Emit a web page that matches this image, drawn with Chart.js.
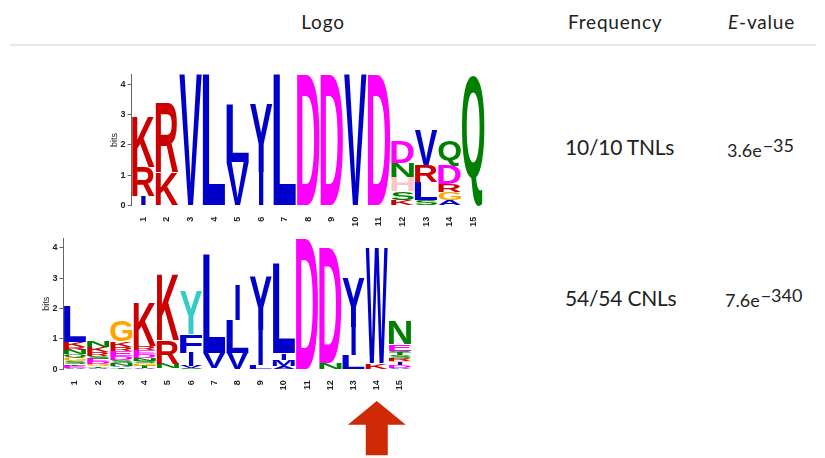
<!DOCTYPE html>
<html>
<head>
<meta charset="utf-8">
<script src="https://cdn.jsdelivr.net/npm/chart.js@4/dist/chart.umd.min.js"></script>
<style>
  html, body { margin: 0; padding: 0; background: #ffffff; }
  body { width: 825px; height: 458px; position: relative; overflow: hidden;
         font-family: Lato, "Open Sans", sans-serif; color: #222; }
  .txt { position: absolute; white-space: nowrap; line-height: 1; }
  .head { font-size: 19px; top: 11.5px; letter-spacing: 0.8px; }
  .row { font-size: 21px; letter-spacing: -0.2px; }
  .ev { font-size: 18px; }
  .ev span { font-size: 18px; position: relative; top: -5px; margin-left: 1px; }
  #rule { position: absolute; left: 10px; top: 44px; width: 806px; height: 2px; background: #e8e8e8; }
  canvas { position: absolute; }
  #tnlBox { left: 100px; top: 66px; width: 388px; height: 164px; }
  #cnlBox { left: 32px; top: 228px; width: 383px; height: 230px; }
</style>
</head>
<body>
<div class="txt head" style="left:323px; transform:translateX(-50%);">Logo</div>
<div class="txt head" style="left:568px;">Frequency</div>
<div class="txt head" style="left:728px;"><i>E</i>-value</div>
<div id="rule"></div>

<div class="txt row" style="left:565px; top:136.4px;">10/10 TNLs</div>
<div class="txt ev" style="left:727px; top:141.3px;">3.6e<span>&minus;35</span></div>
<div class="txt row" style="left:565px; top:287.4px;">54/54 CNLs</div>
<div class="txt ev" style="left:725px; top:290.7px;">7.6e<span>&minus;340</span></div>

<div id="tnlBox" style="position:absolute;"><canvas id="tnl"></canvas></div>
<div id="cnlBox" style="position:absolute;"><canvas id="cnl"></canvas></div>

<script>
// Motif positions and y-axis ticks shared by both logos
const positions = ['1','2','3','4','5','6','7','8','9','10','11','12','13','14','15'];
const bitTicks = [0, 1, 2, 3, 4];
const bitsMax = 4.32;

// TNL motif: residues per position, stacked bottom -> top, with their heights in bits
const tnlLetters = ['IRK','KR','V','L','VL','IY','L','D','D','V','D','KSHND','SLRV','AGRDQ','Q'];
const tnlBits = [
  [0.32, 0.96, 1.67],
  [1.09, 2.30],
  [4.32],
  [4.32],
  [1.45, 1.88],
  [1.12, 2.23],
  [4.32],
  [4.32],
  [4.32],
  [4.32],
  [4.32],
  [0.20, 0.27, 0.48, 0.45, 0.70],
  [0.20, 0.58, 0.55, 1.15],
  [0.20, 0.24, 0.27, 0.62, 0.82],
  [4.32]
];

// CNL motif
const cnlLetters = ['AETSGQNRKL','ATGDESRKN','TANSDERKG','ATGSNDERK','SNRK','SVIFY','IVL','VLI',
                    'LIY','AMIL','D','ND','LIY','KW','ADIGRSTQEN'];
const cnlBits = [
  [0.05, 0.06, 0.06, 0.09, 0.11, 0.12, 0.15, 0.09, 0.18, 1.16],
  [0.04, 0.06, 0.07, 0.07, 0.10, 0.10, 0.12, 0.16, 0.20],
  [0.06, 0.05, 0.10, 0.08, 0.14, 0.16, 0.14, 0.18, 0.70],
  [0.05, 0.07, 0.08, 0.08, 0.10, 0.12, 0.14, 0.12, 1.44],
  [0.03, 0.15, 0.77, 2.15],
  [0.04, 0.06, 0.45, 0.60, 1.42],
  [0.03, 0.50, 3.23],
  [0.55, 1.08, 1.13],
  [0.15, 1.15, 1.75],
  [0.10, 0.22, 0.20, 2.93],
  [4.32],
  [0.22, 3.78],
  [0.47, 0.93, 1.60],
  [0.20, 3.80],
  [0.05, 0.08, 0.10, 0.05, 0.10, 0.08, 0.08, 0.06, 0.22, 0.75]
];
const cnlMarkedPosition = '14';

// Residue colouring
const residueColors = {
  K: '#cc0000', R: '#cc0000',
  A: '#0000cc', V: '#0000cc', L: '#0000cc', I: '#0000cc', M: '#0000cc',
  F: '#0000cc', W: '#0000cc', Y: '#0000cc', P: '#0000cc',
  D: '#ff00ff', E: '#ff00ff',
  N: '#008000', Q: '#008000', S: '#008000', T: '#008000',
  G: '#ffa500', H: '#f9c6c6', C: '#ffa500'
};
const GLYPH_FONT = 'bold 200px "Liberation Sans", Arial, sans-serif';

function drawGlyph(ctx, ch, x0, y0, w, h, color) {
  if (h < 0.3 || w <= 0) return;
  ctx.save();
  ctx.font = GLYPH_FONT;
  ctx.textAlign = 'left';
  ctx.textBaseline = 'alphabetic';
  const m = ctx.measureText(ch);
  const gl = m.actualBoundingBoxLeft, gr = m.actualBoundingBoxRight;
  const ga = m.actualBoundingBoxAscent, gd = m.actualBoundingBoxDescent;
  const gw = gl + gr, gh = ga + gd;
  // a narrow stem keeps its slim shape instead of filling the column
  const bw = ch === 'I' ? w * 0.2 : w;
  ctx.translate(x0 + (w - bw) / 2, y0);
  ctx.scale(bw / gw, h / gh);
  ctx.fillStyle = color;
  ctx.fillText(ch, gl, ga);
  ctx.restore();
}

const letterPlugin = {
  id: 'logoLetters',
  afterDatasetsDraw(chart, args, opts) {
    const ctx = chart.ctx;
    chart.data.datasets.forEach((ds, k) => {
      const meta = chart.getDatasetMeta(k);
      meta.data.forEach((bar, i) => {
        const ch = opts.letters[i][k];
        if (!ch || ds.data[i] == null) return;
        const p = bar.getProps(['x', 'y', 'base', 'width'], true);
        const top = Math.min(p.y, p.base);
        const color = (opts.accent && opts.accent[positions[i] + ch]) || residueColors[ch];
        drawGlyph(ctx, ch, p.x - p.width / 2, top, p.width, Math.abs(p.base - p.y), color);
      });
    });
  }
};

// Up arrow under a marked position
const arrowPlugin = {
  id: 'markArrow',
  afterDraw(chart, args, opts) {
    if (!opts.position) return;
    const xs = chart.scales.x;
    const cx = xs.getPixelForValue(positions.indexOf(opts.position));
    const b = chart.chartArea.bottom;
    const tip = b + 31.7, neck = b + 55.5, end = b + 86;
    const ctx = chart.ctx;
    ctx.save();
    ctx.fillStyle = '#cf2a06';
    ctx.beginPath();
    ctx.moveTo(cx, tip);
    ctx.lineTo(cx + 29, neck);
    ctx.lineTo(cx + 11, neck);
    ctx.lineTo(cx + 11, end);
    ctx.lineTo(cx - 11, end);
    ctx.lineTo(cx - 11, neck);
    ctx.lineTo(cx - 29, neck);
    ctx.closePath();
    ctx.fill();
    ctx.restore();
  }
};

function buildLogo(id, letters, bits, padding, extra) {
  const depth = Math.max(...letters.map(s => s.length));
  const datasets = [];
  for (let k = 0; k < depth; k++) {
    datasets.push({
      data: bits.map(col => (col[k] === undefined ? null : col[k])),
      backgroundColor: 'rgba(0,0,0,0)',
      borderWidth: 0,
      barPercentage: 0.95,
      categoryPercentage: 1.0,
      stack: 'logo'
    });
  }
  const axisFont = { family: '"Liberation Sans", Arial, sans-serif', size: 9, weight: 'bold' };
  return new Chart(document.getElementById(id), {
    type: 'bar',
    data: { labels: positions, datasets },
    options: {
      responsive: true,
      maintainAspectRatio: false,
      animation: false,
      layout: { padding },
      plugins: {
        legend: { display: false },
        tooltip: { enabled: false },
        logoLetters: { letters, accent: extra.accent },
        markArrow: { position: extra.marked }
      },
      scales: {
        x: {
          stacked: true,
          afterFit(s) { s.height = 22; },
          grid: { display: false },
          border: { display: false },
          ticks: { autoSkip: false, minRotation: 90, maxRotation: 90, padding: 3,
                   font: axisFont, color: '#222' }
        },
        y: {
          stacked: true,
          min: 0,
          max: bitsMax,
          afterFit(s) { s.width = 30; },
          afterBuildTicks(s) { s.ticks = bitTicks.map(v => ({ value: v })); },
          border: { display: true, color: '#666', width: 1 },
          grid: { display: true, drawOnChartArea: false, drawTicks: true, tickLength: 4, color: '#666' },
          ticks: { padding: 2, font: axisFont, color: '#222' },
          title: { display: true, text: 'bits', color: '#222',
                   font: { family: '"Liberation Sans", Arial, sans-serif', size: 9 },
                   padding: { top: 8, bottom: 0 } }
        }
      }
    },
    plugins: [letterPlugin, arrowPlugin]
  });
}

buildLogo('tnl', tnlLetters, tnlBits,
          { left: 1.6, top: 8.4, right: 3, bottom: 2.3 }, {});
buildLogo('cnl', cnlLetters, cnlBits,
          { left: 1.4, top: 10, right: 3.4, bottom: 66.7 },
          { accent: { '6Y': '#36cbc4' }, marked: cnlMarkedPosition });
</script>
</body>
</html>
